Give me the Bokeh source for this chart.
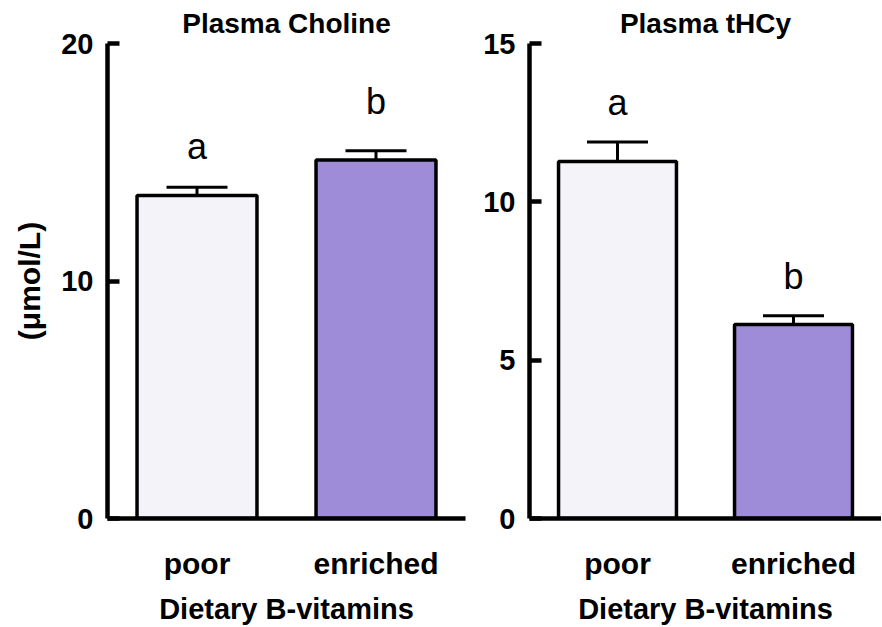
from bokeh.plotting import figure
from bokeh.layouts import row
from bokeh.models import (ColumnDataSource, FactorRange, Range1d, FixedTicker,
                          Whisker, TeeHead)
from bokeh.core.properties import value
from bokeh.embed import file_html
from bokeh.resources import INLINE

# ---- data ----
groups = ["poor", "enriched"]
colors = ["#F5F3FA", "#9E8CD8"]

choline_mean = [13.6, 15.1]
choline_err = [0.35, 0.38]
choline_letters = ["a", "b"]
choline_letter_y = [15.65, 17.55]
choline_ticks = [0, 10, 20]

thcy_mean = [11.27, 6.13]
thcy_err = [0.62, 0.27]
thcy_letters = ["a", "b"]
thcy_letter_y = [13.15, 7.63]
thcy_ticks = [0, 5, 10, 15]

FONT = "Liberation Sans"


def make_panel(title, means, errs, letters, letter_y, ticks, ymax,
               ylabel, frame_w, mb_left, mb_right):
    src = ColumnDataSource(dict(
        cat=groups, top=means,
        upper=[m + e for m, e in zip(means, errs)],
        color=colors, letter=letters, ly=letter_y))
    p = figure(x_range=FactorRange(factors=groups, range_padding=0),
               y_range=Range1d(0, ymax),
               frame_width=frame_w, frame_height=475,
               min_border_left=mb_left, min_border_right=mb_right,
               min_border_top=36, min_border_bottom=0,
               output_backend="svg", toolbar_location=None,
               title=title)
    p.title.text_font = FONT
    p.title.text_font_style = "bold"
    p.title.text_font_size = "28px"
    p.title.align = "center"
    p.title.text_color = "black"

    p.vbar(x="cat", top="top", bottom=0, width=0.67, source=src,
           fill_color="color", line_color="black", line_width=3.5)
    w = Whisker(base="cat", upper="upper", lower="top", source=src,
                dimension="height", line_color="black", line_width=3,
                upper_head=TeeHead(size=61, line_color="black", line_width=3),
                lower_head=None)
    p.add_layout(w)
    p.text(x="cat", y="ly", text="letter", source=src,
           text_align="center", text_baseline="alphabetic",
           text_font=value(FONT), text_font_size="36px", text_color="black")

    p.xgrid.visible = False
    p.ygrid.visible = False
    p.outline_line_color = None
    p.background_fill_color = "white"
    p.border_fill_color = "white"

    ya = p.yaxis[0]
    ya.ticker = FixedTicker(ticks=ticks)
    ya.axis_line_width = 4.5
    ya.axis_line_color = "black"
    ya.major_tick_line_width = 4.5
    ya.major_tick_line_color = "black"
    ya.major_tick_in = 12
    ya.major_tick_out = 0
    ya.minor_tick_line_color = None
    ya.major_label_text_font = FONT
    ya.major_label_text_font_style = "bold"
    ya.major_label_text_font_size = "29px"
    ya.major_label_text_color = "black"
    ya.major_label_standoff = 14
    if ylabel:
        ya.axis_label = ylabel
        ya.axis_label_text_font = FONT
        ya.axis_label_text_font_style = "bold"
        ya.axis_label_text_font_size = "30px"
        ya.axis_label_text_color = "black"
        ya.axis_label_standoff = 12

    xa = p.xaxis[0]
    xa.axis_line_width = 4.5
    xa.axis_line_color = "black"
    xa.major_tick_line_color = None
    xa.minor_tick_line_color = None
    xa.major_label_text_font = FONT
    xa.major_label_text_font_style = "bold"
    xa.major_label_text_font_size = "30px"
    xa.major_label_text_color = "black"
    xa.major_label_standoff = 22
    xa.axis_label = "Dietary B-vitamins"
    xa.axis_label_text_font = FONT
    xa.axis_label_text_font_style = "bold"
    xa.axis_label_text_font_size = "29px"
    xa.axis_label_text_color = "black"
    xa.axis_label_standoff = 10
    return p


p1 = make_panel("Plasma Choline", choline_mean, choline_err, choline_letters,
                choline_letter_y, choline_ticks, 20, "(\u03bcmol/L)",
                358, 107, 2)
p2 = make_panel("Plasma tHCy", thcy_mean, thcy_err, thcy_letters,
                thcy_letter_y, thcy_ticks, 15, None,
                352, 62, 0)

layout = row(p1, p2)
open("out.html", "w").write(file_html(layout, INLINE))
